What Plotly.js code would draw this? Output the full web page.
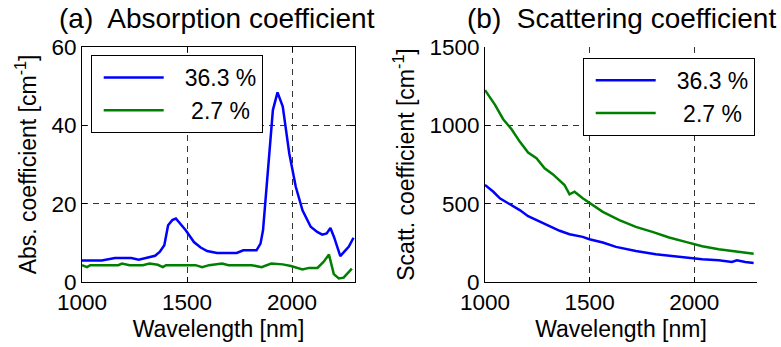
<!DOCTYPE html>
<html>
<head>
<meta charset="utf-8">
<script src="https://cdn.plot.ly/plotly-3.0.1.min.js"></script>
<style>html,body{margin:0;padding:0;background:#fff;}#chart{width:781px;height:347px;}</style>
</head>
<body>
<div id="chart"></div>
<script>
// ---- data ----
var seriesNames = ['36.3 %', '\u00a02.7 %'];
var xTicks = [1000, 1500, 2000];
var absTicks = [0, 20, 40, 60];
var scatTicks = [0, 500, 1000, 1500];

var absWl36 = [1000,1050,1094,1157,1235,1270,1348,1370,1392,1410,1430,1447,1470,1494,1533,1565,1596,1643,1737,1768,1831,1850,1862,1909,1931,1956,1987,2018,2050,2089,2120,2144,2165,2183,2200,2214,2230,2250,2270,2293];
var abs36   = [5.5,5.5,5.5,6.1,6.1,5.7,6.7,7.7,9.4,14.5,15.8,16.2,14.7,13.2,10.2,8.8,7.9,7.4,7.4,8.1,8.1,9.8,13.2,43.9,48.4,44.8,32.8,24.3,18.3,14.1,12.8,12.1,12.4,13.8,11.5,9.0,6.6,7.8,9.0,11.3];

var absWl27 = [1000,1024,1039,1100,1173,1190,1227,1290,1321,1361,1385,1400,1450,1541,1572,1605,1667,1698,1750,1808,1855,1901,1956,1995,2050,2081,2121,2150,2176,2199,2223,2246,2285];
var abs27   = [4.3,3.8,4.3,4.3,4.3,4.7,4.3,4.3,4.7,4.4,3.8,4.3,4.3,4.3,3.8,4.3,4.7,4.3,4.3,4.3,3.8,4.7,4.5,4.1,3.2,3.6,3.6,5.1,7.0,2.0,0.9,1.1,3.4];

var scatWl36 = [1000,1040,1071,1119,1166,1206,1246,1293,1357,1404,1467,1499,1563,1626,1721,1816,1911,2006,2038,2117,2180,2204,2244,2284];
var scat36   = [620,576,534,497,459,420,395,369,327,305,288,273,252,224,198,177,164,149,145,139,128,139,128,122];

var scatWl27 = [1000,1048,1087,1127,1166,1206,1246,1285,1325,1380,1404,1428,1467,1499,1563,1642,1721,1800,1880,1959,2038,2117,2196,2284];
var scat27   = [1225,1131,1039,975,896,826,790,726,687,619,559,576,534,506,448,395,352,320,284,256,228,209,198,181];

var colors = ['#0000ff', '#008000'];
var FONT = '"Liberation Sans", Arial, Helvetica, sans-serif';

var traces = [
  {x: absWl36, y: abs36, name: seriesNames[0], xaxis: 'x', yaxis: 'y', legend: 'legend'},
  {x: absWl27, y: abs27, name: seriesNames[1], xaxis: 'x', yaxis: 'y', legend: 'legend'},
  {x: scatWl36, y: scat36, name: seriesNames[0], xaxis: 'x2', yaxis: 'y2', legend: 'legend2'},
  {x: scatWl27, y: scat27, name: seriesNames[1], xaxis: 'x2', yaxis: 'y2', legend: 'legend2'}
].map(function (t, i) {
  t.type = 'scatter'; t.mode = 'lines';
  t.line = {color: colors[i % 2], width: 2.5};
  return t;
});

var W = 781, H = 347;
function px(x) { return x / W; }
function py(y) { return (H - y) / H; }

var common = {
  showline: true, linecolor: '#000', linewidth: 1,
  ticks: 'inside', ticklen: 5, tickcolor: '#000', tickwidth: 1,
  showgrid: true, gridcolor: '#333', gridwidth: 1, griddash: '6px,5px',
  zeroline: false, automargin: false,
  tickfont: {size: 22.5, color: '#000', family: FONT}
};
function ax(extra) { return Object.assign({}, common, extra); }

var legendCommon = {
  xanchor: 'left', yanchor: 'top', bgcolor: '#fff', bordercolor: '#000', borderwidth: 1,
  font: {size: 23, color: '#000', family: FONT}, itemwidth: 83, tracegroupgap: 0
};

var layout = {
  width: W, height: H,
  margin: {l: 0, r: 0, t: 0, b: 0},
  paper_bgcolor: '#fff', plot_bgcolor: '#fff',
  font: {family: FONT, color: '#000'},
  showlegend: true,
  xaxis: ax({domain: [px(82), px(355)], range: [1000, 2300], tickvals: xTicks, anchor: 'y', mirror: 'ticks',
    title: {text: 'Wavelength [nm]', font: {size: 23, family: FONT, color: '#000'}, standoff: 6}}),
  yaxis: ax({domain: [py(282), py(47)], range: [0, 60], tickvals: absTicks, anchor: 'x', mirror: 'ticks',
    title: {text: 'Abs. coefficient [cm<sup>-1</sup>]', font: {size: 23, family: FONT, color: '#000'}, standoff: 8}}),
  xaxis2: ax({domain: [px(485), px(757)], range: [1000, 2300], tickvals: xTicks, anchor: 'y2',
    title: {text: 'Wavelength [nm]', font: {size: 23, family: FONT, color: '#000'}, standoff: 6}}),
  yaxis2: ax({domain: [py(282), py(47)], range: [0, 1500], tickvals: scatTicks, anchor: 'x2',
    title: {text: 'Scatt. coefficient [cm<sup>-1</sup>]', font: {size: 23, family: FONT, color: '#000'}, standoff: 8}}),
  legend: Object.assign({}, legendCommon, {x: px(90.7), y: py(55)}),
  legend2: Object.assign({}, legendCommon, {x: px(582.7), y: py(57.7)}),
  annotations: [
    {text: '(a)\u00a0 Absorption coefficient', xref: 'paper', yref: 'paper', x: px(217), y: py(36),
     xanchor: 'center', yanchor: 'bottom', showarrow: false, font: {size: 28, family: FONT, color: '#000'}},
    {text: '(b)\u00a0 Scattering coefficient', xref: 'paper', yref: 'paper', x: px(621), y: py(36),
     xanchor: 'center', yanchor: 'bottom', showarrow: false, font: {size: 28, family: FONT, color: '#000'}}
  ]
};

Plotly.newPlot('chart', traces, layout, {staticPlot: true, displayModeBar: false}).then(function (gd) {
  // MATLAB-style legends use a longer line sample
  gd.querySelectorAll('.legendlines path').forEach(function (p) { p.setAttribute('d', 'M12,0h60'); });
});
</script>
</body>
</html>
